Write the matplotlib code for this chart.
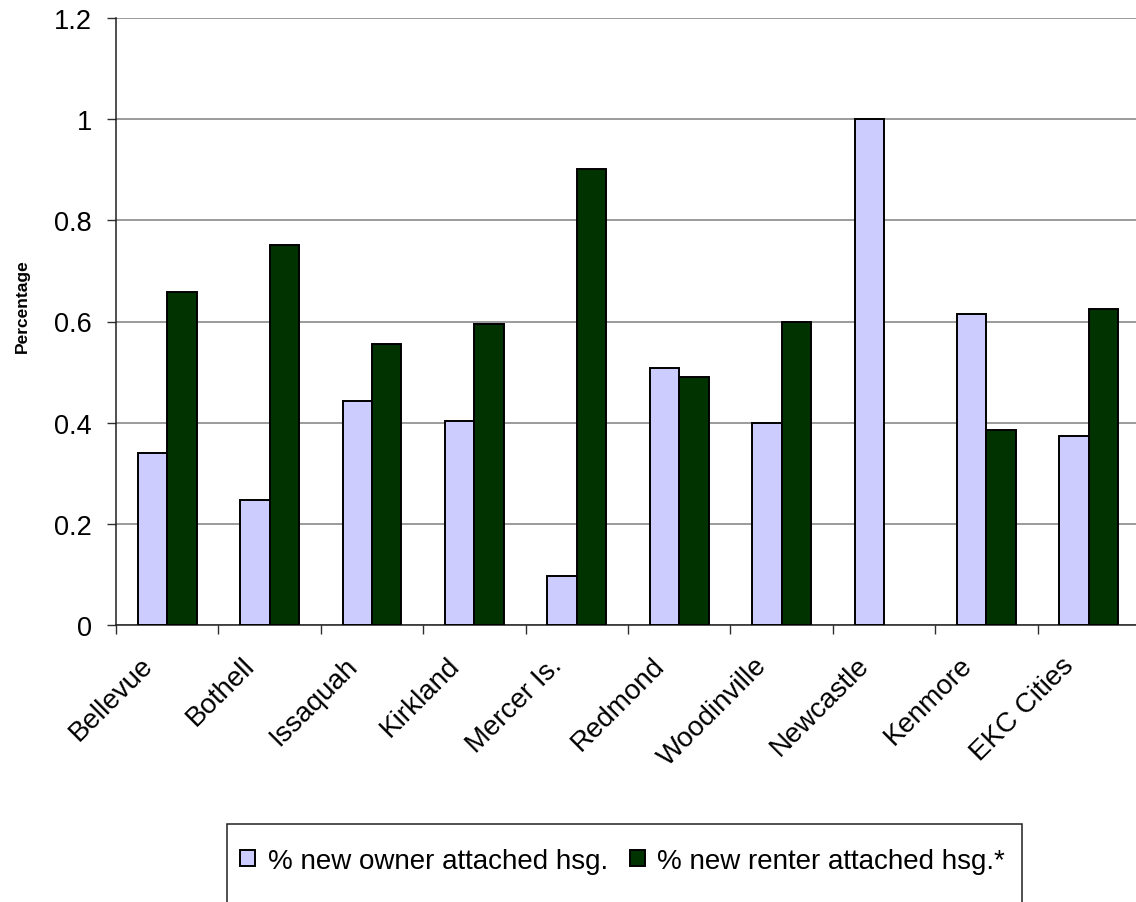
import matplotlib
matplotlib.use("Agg")
import matplotlib.pyplot as plt
import matplotlib.transforms as mtransforms
from matplotlib.patches import Rectangle
import numpy as np

cities = ["Bellevue", "Bothell", "Issaquah", "Kirkland", "Mercer Is.",
          "Redmond", "Woodinville", "Newcastle", "Kenmore", "EKC Cities"]
owner_share = [0.341, 0.247, 0.442, 0.403, 0.097, 0.509, 0.399, 1.0, 0.614, 0.374]
renter_share = [0.658, 0.752, 0.556, 0.595, 0.902, 0.490, 0.599, 0.0, 0.386, 0.625]
y_ticks = [0, 0.2, 0.4, 0.6, 0.8, 1, 1.2]
y_tick_labels = ["0", "0.2", "0.4", "0.6", "0.8", "1", "1.2"]
series_labels = ["% new owner attached hsg.", "% new renter attached hsg.*"]

plt.rcParams["font.family"] = ["Liberation Sans", "DejaVu Sans"]

W, H = 1136, 903
DPI = 100
fig = plt.figure(figsize=(W / DPI, H / DPI), dpi=DPI)
ax = fig.add_axes([116 / W, 1 - 626 / H, 1024 / W, (626 - 19) / H])

x = np.arange(len(cities))
bw = 0.288
b1 = ax.bar(x - bw / 2, owner_share, bw, color="#CCCCFF", edgecolor="black",
            linewidth=1.4, label=series_labels[0], zorder=3)
b2 = ax.bar(x + bw / 2, renter_share, bw, color="#003300", edgecolor="black",
            linewidth=1.4, label=series_labels[1], zorder=3)
for patch in list(b1) + list(b2):
    if patch.get_height() == 0:
        patch.set_visible(False)

ax.set_xlim(-0.5, len(cities) - 0.5)
ax.set_ylim(0, 1.2)
ax.set_yticks(y_ticks)
ax.set_yticklabels(y_tick_labels, fontsize=19.5)
ax.yaxis.grid(True, color="#808080", linewidth=1.1, zorder=0)
ax.tick_params(axis="y", direction="out", length=6.5, width=1, color="#303030", pad=11)

# tick marks sit on the category boundaries; names are drawn as rotated text
ax.set_xticks(x)
ax.set_xticklabels([""] * len(cities))
ax.tick_params(axis="x", which="major", length=0)
ax.set_xticks(np.arange(len(cities) + 1) - 0.5, minor=True)
ax.tick_params(axis="x", which="minor", direction="out", length=6.5, width=1, color="#303030")

label_tf = ax.get_xaxis_transform() + mtransforms.ScaledTranslation(
    -13.5 / DPI, -41 / DPI, fig.dpi_scale_trans)
for xi, name in zip(x, cities):
    ax.text(xi, 0, name, transform=label_tf, rotation=45, rotation_mode="anchor",
            ha="right", va="baseline", fontsize=20, clip_on=False)

for s in ["top", "right"]:
    ax.spines[s].set_visible(False)
for s in ["left", "bottom"]:
    ax.spines[s].set_color("#202020")
    ax.spines[s].set_linewidth(1.1)

fig.text(22.5 / W, 1 - 306 / H, "Percentage", rotation=90, ha="center", va="center",
         fontsize=12.5, fontweight="bold")

# legend entries without their own frame; the box is drawn separately
leg = fig.legend(handles=[b1, b2], labels=series_labels, loc="center left",
                 bbox_to_anchor=(240 / W, 1 - 862 / H), fontsize=20,
                 frameon=False, ncol=2, handlelength=0.54, handleheight=0.54,
                 handletextpad=0.45, columnspacing=0.8, borderpad=0, borderaxespad=0)
fig.add_artist(Rectangle((227 / W, -0.02), (1022 - 227) / W, (1 - 825 / H) + 0.02,
                         transform=fig.transFigure, fill=False,
                         edgecolor="#202020", linewidth=1.1))

fig.savefig("out.png", dpi=DPI, facecolor="white")
